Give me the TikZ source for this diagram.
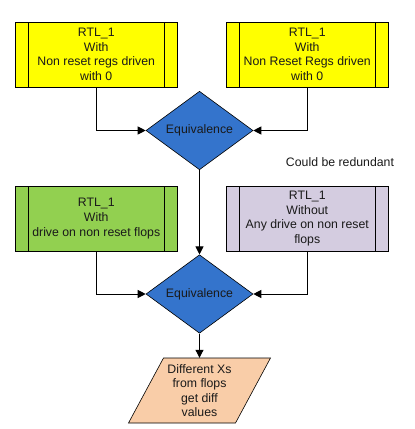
\documentclass[tikz,border=0pt]{standalone}
\usepackage{fontspec}
\setmainfont{Liberation Sans}
\usetikzlibrary{shapes.geometric,arrows.meta}
\definecolor{cyel}{HTML}{FFFF00}
\definecolor{cblue}{HTML}{3474CC}
\definecolor{cgreen}{HTML}{92D050}
\definecolor{clav}{HTML}{D4CCE0}
\definecolor{cpeach}{HTML}{F9CDA8}
\definecolor{ctext}{HTML}{1A1A1A}
\begin{document}
\begin{tikzpicture}[x=1pt,y=1pt,
  every node/.style={font=\fontsize{12.3}{14.6}\selectfont, text=ctext},
  procbox/.style={draw=black, line width=1pt, minimum width=161.5pt, minimum height=65pt, inner sep=0pt, align=center,
    path picture={\draw[line width=1pt] ([xshift=13pt]path picture bounding box.north west) -- ([xshift=13pt]path picture bounding box.south west);
                  \draw[line width=1pt] ([xshift=-13pt]path picture bounding box.north east) -- ([xshift=-13pt]path picture bounding box.south east);}},
  decision/.style={diamond, draw=black, line width=0.6pt, fill=cblue, minimum width=107pt, minimum height=65pt, inner sep=0pt},
  arr/.style={draw=black, line width=1pt, -{Triangle[length=8pt,width=8pt]}}]
\useasboundingbox (0,0) rectangle (415,-429);
\fill[white] (0,0) rectangle (415,-429);
\node[procbox, fill=cyel] (b1) at (96.25,-54.5) {RTL\_1\\With\\Non reset regs driven\\with 0};
\node[procbox, fill=cyel] (b2) at (307.25,-54.5) {RTL\_1\\With\\Non Reset Regs driven\\with 0};
\node[decision] (d1) at (199.5,-130.5) {Equivalence};
\node (note) at (340,-162) {Could be redundant};
\node[procbox, fill=cgreen] (b3) at (96.25,-218.5) {RTL\_1\\With\\drive on non reset flops};
\node[procbox, fill=clav] (b4) at (307.25,-218.5) {RTL\_1\\Without\\Any drive on non reset\\flops};
\node[decision] (d2) at (199.5,-294) {Equivalence};
\coordinate (pc) at (199.5,-390.5);
\fill[cpeach, draw=black, line width=0.6pt] ([shift={(-36,32.5)}]pc) -- ([shift={(71,32.5)}]pc) -- ([shift={(36,-32.5)}]pc) -- ([shift={(-71,-32.5)}]pc) -- cycle;
\node[align=center, minimum width=107pt, minimum height=65pt, inner sep=0pt] (p) at (pc) {Different Xs\\from flops\\get diff\\values};
\draw[arr] (b1.south) |- (d1.west);
\draw[arr] (b2.south) |- (d1.east);
\draw[arr] (d1.south) -- (d2.north);
\draw[arr] (b3.south) |- (d2.west);
\draw[arr] (b4.south) |- (d2.east);
\draw[arr] (d2.south) -- (p.north);
\end{tikzpicture}
\end{document}
